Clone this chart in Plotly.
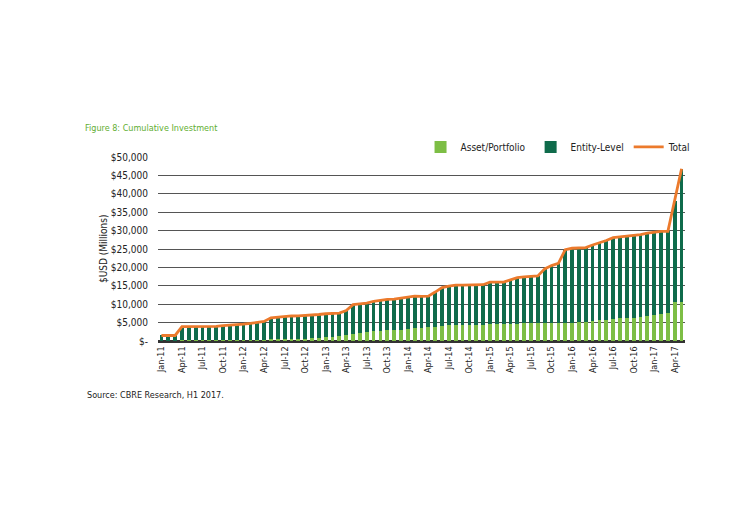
import plotly.graph_objects as go

years = ["11", "12", "13", "14", "15", "16", "17"]
month_names = ["Jan", "Feb", "Mar", "Apr", "May", "Jun", "Jul", "Aug", "Sep", "Oct", "Nov", "Dec"]
months = [f"{m}-{y}" for y in years for m in month_names][:77]  # Jan-11 .. May-17

total = [
    1500, 1500, 1500, 3900, 3900, 3900, 3950, 3950, 4000, 4200, 4300, 4500,
    4600, 4800, 5000, 5300, 6300, 6500, 6800, 6800, 6850, 6900, 6950, 7200,
    7400, 7500, 7600, 8300, 9900, 10100, 10300, 10800, 11100, 11300, 11400, 11600,
    11900, 12200, 12100, 12200, 13300, 14500, 14900, 15200, 15200, 15200, 15200, 15300,
    16000, 16100, 16000, 16600, 17200, 17400, 17600, 17700, 19600, 20500, 21100, 24800,
    25200, 25300, 25400, 26100, 26600, 27300, 28100, 28300, 28300, 28500, 28900, 29300,
    29600, 29800, 29800, 38000, 46800,
]

asset_portfolio = [
    100, 100, 100, 150, 150, 150, 200, 200, 200, 250, 250, 300,
    300, 350, 400, 400, 450, 500, 500, 550, 600, 600, 700, 800,
    1000, 1100, 1300, 1500, 2000, 2300, 2500, 2700, 2800, 3000, 3000, 3100,
    3300, 3400, 3500, 3800, 3900, 4100, 4300, 4300, 4300, 4400, 4400, 4400,
    4600, 4600, 4700, 4700, 4700, 4800, 4800, 4800, 4900, 4900, 5000, 5000,
    5000, 5100, 5300, 5500, 5600, 5800, 6100, 6200, 6300, 6300, 6500, 6800,
    7100, 7300, 7500, 10500, 10600,
]

entity_level = [t - a for t, a in zip(total, asset_portfolio)]

x_ticks = months[::3]
y_ticks = [0, 5000, 10000, 15000, 20000, 25000, 30000, 35000, 40000, 45000, 50000]
y_ticktext = ["$-"] + [f"${v:,}" for v in y_ticks[1:]]

FONT = "DejaVu Sans Condensed, Liberation Sans Narrow, Arial Narrow, sans-serif"
LIGHT = "#7dbe45"
DARK = "#0f6b4b"
ORANGE = "#ec7a2c"

fig = go.Figure()
fig.add_trace(go.Bar(x=months, y=asset_portfolio, name="Asset/Portfolio",
                     marker=dict(color=LIGHT, line=dict(width=0))))
fig.add_trace(go.Bar(x=months, y=entity_level, name="Entity-Level",
                     marker=dict(color=DARK, line=dict(width=0))))
fig.add_trace(go.Scatter(x=months, y=total, name="Total", mode="lines",
                         line=dict(color=ORANGE, width=2.8)))

fig.update_layout(
    width=750, height=512,
    margin=dict(l=158, r=65, t=157, b=171),
    barmode="stack", bargap=0.45,
    paper_bgcolor="white", plot_bgcolor="white",
    font=dict(family=FONT, size=10, color="#222222"),
    showlegend=True,
    legend=dict(orientation="h", x=1.02, xanchor="right", y=1.055, yanchor="middle",
                traceorder="normal",
                font=dict(family=FONT, size=10, color="#222222"),
                itemwidth=30, bgcolor="rgba(0,0,0,0)"),
    title=dict(text="Figure 8: Cumulative Investment", x=85 / 750, xanchor="left",
               y=1 - 128 / 512, yanchor="middle",
               font=dict(family=FONT, size=9, color="#5fae32")),
    annotations=[
        dict(text="$USD (Millions)", xref="paper", yref="paper", x=(103 - 158) / 527, y=0.5,
             textangle=-90, showarrow=False, xanchor="center", yanchor="middle",
             font=dict(family=FONT, size=10, color="#222222")),
        dict(text="Source: CBRE Research, H1 2017.", xref="paper", yref="paper",
             x=(85 - 158) / 527, y=(341 - 395) / 184, xanchor="left", yanchor="middle",
             showarrow=False, font=dict(family=FONT, size=9, color="#222222")),
    ],
    xaxis=dict(type="category", tickmode="array", tickvals=x_ticks, ticktext=x_ticks,
               tickangle=-90, showgrid=False, showline=True, linecolor="#333333", linewidth=1.5,
               ticks="", tickfont=dict(family=FONT, size=9, color="#222222")),
    yaxis=dict(range=[0, 50000], tickmode="array", tickvals=y_ticks, ticktext=y_ticktext,
               showgrid=True, gridcolor="#555555", gridwidth=1.4, zeroline=True,
               zerolinecolor="#333333", zerolinewidth=1.5, showline=False,
               ticklabelstandoff=9, tickfont=dict(family=FONT, size=10, color="#222222")),
)

fig.write_html("out.html", config={"displayModeBar": False},
               post_script="document.body.style.margin='0';")
